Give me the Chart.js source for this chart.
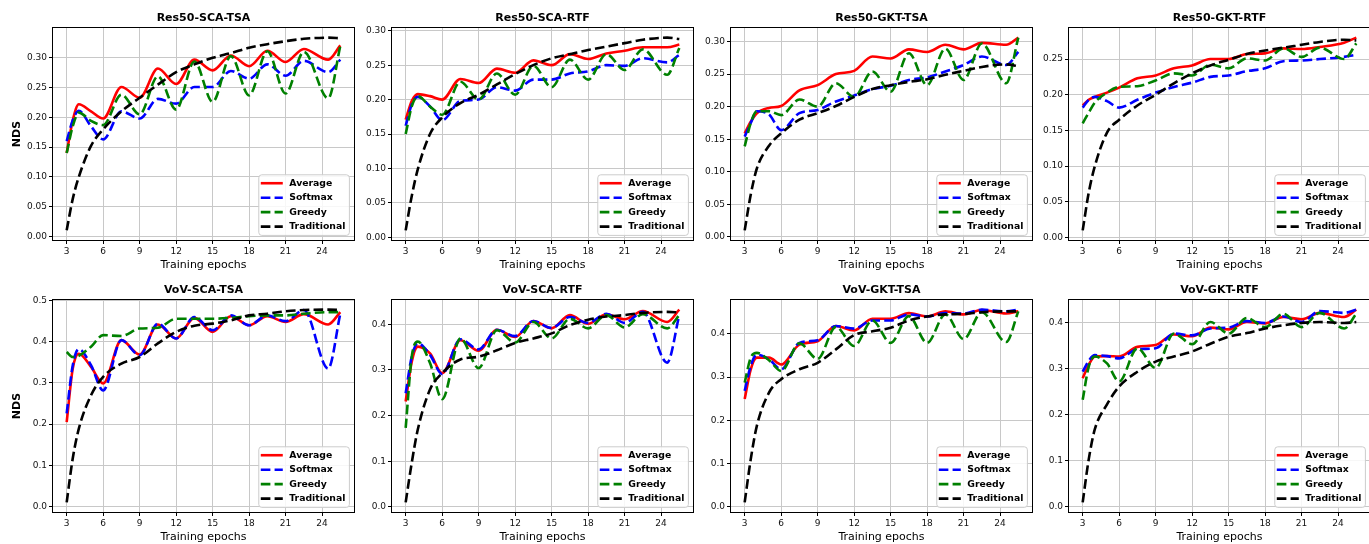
<!DOCTYPE html>
<html>
<head>
<meta charset="utf-8">
<script src="https://cdn.jsdelivr.net/npm/chart.js@4.4.1/dist/chart.umd.min.js"></script>
<style>
  html, body { margin: 0; padding: 0; background: #fff; overflow: hidden; }
  #fig { position: relative; width: 1369px; height: 544px; }
  #fig canvas { position: absolute; }
</style>
</head>
<body>
<div id="fig"></div>
<script>
const epochs = [3, 3.5, 4, 5, 6, 7.5, 9, 10.5, 12, 13.5, 15, 16.5, 18, 19.5, 21, 22.5, 24.5, 25.5];
const xTicks = [3, 6, 9, 12, 15, 18, 21, 24];
const seriesNames = ['Average', 'Softmax', 'Greedy', 'Traditional'];

// Res50-SCA-TSA
const r50ScaTsaAvg    = [0.140, 0.195, 0.222, 0.210, 0.198, 0.251, 0.233, 0.282, 0.256, 0.297, 0.279, 0.304, 0.286, 0.312, 0.293, 0.315, 0.297, 0.321];
const r50ScaTsaSoft   = [0.160, 0.195, 0.211, 0.185, 0.163, 0.210, 0.198, 0.231, 0.223, 0.251, 0.251, 0.278, 0.265, 0.289, 0.270, 0.295, 0.276, 0.297];
const r50ScaTsaGreedy = [0.140, 0.185, 0.208, 0.194, 0.187, 0.238, 0.205, 0.269, 0.213, 0.294, 0.226, 0.303, 0.237, 0.311, 0.240, 0.310, 0.232, 0.320];
const r50ScaTsaTrad   = [0.010, 0.063, 0.100, 0.152, 0.180, 0.210, 0.233, 0.255, 0.276, 0.289, 0.300, 0.308, 0.317, 0.323, 0.328, 0.332, 0.334, 0.333];

// Res50-SCA-RTF
const r50ScaRtfAvg    = [0.171, 0.198, 0.208, 0.205, 0.200, 0.230, 0.224, 0.245, 0.239, 0.257, 0.250, 0.266, 0.259, 0.267, 0.271, 0.276, 0.276, 0.280];
const r50ScaRtfSoft   = [0.162, 0.193, 0.204, 0.190, 0.170, 0.198, 0.200, 0.218, 0.213, 0.229, 0.229, 0.238, 0.241, 0.250, 0.249, 0.260, 0.254, 0.265];
const r50ScaRtfGreedy = [0.150, 0.190, 0.205, 0.190, 0.178, 0.226, 0.200, 0.238, 0.207, 0.249, 0.218, 0.258, 0.229, 0.266, 0.243, 0.273, 0.236, 0.275];
const r50ScaRtfTrad   = [0.010, 0.060, 0.099, 0.150, 0.174, 0.195, 0.207, 0.222, 0.237, 0.250, 0.260, 0.266, 0.272, 0.277, 0.282, 0.287, 0.290, 0.288];

// Res50-GKT-TSA
const r50GktTsaAvg    = [0.159, 0.177, 0.190, 0.198, 0.201, 0.225, 0.233, 0.250, 0.255, 0.277, 0.274, 0.288, 0.284, 0.295, 0.288, 0.298, 0.295, 0.306];
const r50GktTsaSoft   = [0.154, 0.175, 0.193, 0.188, 0.164, 0.190, 0.195, 0.208, 0.217, 0.227, 0.232, 0.241, 0.245, 0.254, 0.264, 0.277, 0.264, 0.284];
const r50GktTsaGreedy = [0.139, 0.175, 0.193, 0.193, 0.187, 0.211, 0.200, 0.236, 0.215, 0.254, 0.223, 0.282, 0.233, 0.289, 0.241, 0.297, 0.236, 0.306];
const r50GktTsaTrad   = [0.010, 0.065, 0.105, 0.140, 0.159, 0.180, 0.190, 0.201, 0.215, 0.227, 0.233, 0.238, 0.242, 0.249, 0.255, 0.261, 0.265, 0.262];

// Res50-GKT-RTF
const r50GktRtfAvg    = [0.185, 0.193, 0.197, 0.203, 0.210, 0.223, 0.227, 0.237, 0.241, 0.250, 0.250, 0.257, 0.258, 0.265, 0.264, 0.267, 0.273, 0.280];
const r50GktRtfSoft   = [0.182, 0.193, 0.197, 0.191, 0.182, 0.193, 0.203, 0.211, 0.217, 0.225, 0.227, 0.233, 0.237, 0.247, 0.248, 0.250, 0.253, 0.256];
const r50GktRtfGreedy = [0.160, 0.175, 0.189, 0.203, 0.211, 0.212, 0.220, 0.230, 0.227, 0.242, 0.237, 0.251, 0.248, 0.265, 0.253, 0.266, 0.250, 0.272];
const r50GktRtfTrad   = [0.010, 0.063, 0.100, 0.147, 0.165, 0.185, 0.200, 0.216, 0.230, 0.241, 0.249, 0.257, 0.262, 0.266, 0.270, 0.274, 0.277, 0.276];

// VoV-SCA-TSA
const vovScaTsaAvg    = [0.205, 0.335, 0.371, 0.339, 0.299, 0.404, 0.369, 0.442, 0.408, 0.458, 0.424, 0.462, 0.440, 0.462, 0.448, 0.467, 0.442, 0.472];
const vovScaTsaSoft   = [0.226, 0.343, 0.382, 0.343, 0.282, 0.404, 0.367, 0.444, 0.408, 0.460, 0.428, 0.464, 0.440, 0.464, 0.450, 0.477, 0.335, 0.468];
const vovScaTsaGreedy = [0.375, 0.363, 0.366, 0.388, 0.416, 0.414, 0.432, 0.434, 0.456, 0.456, 0.456, 0.458, 0.462, 0.464, 0.464, 0.468, 0.472, 0.472];
const vovScaTsaTrad   = [0.010, 0.117, 0.189, 0.270, 0.315, 0.347, 0.363, 0.396, 0.424, 0.439, 0.444, 0.452, 0.464, 0.468, 0.474, 0.477, 0.478, 0.477];

// VoV-SCA-RTF
const vovScaRtfAvg    = [0.231, 0.318, 0.351, 0.336, 0.293, 0.365, 0.342, 0.388, 0.372, 0.407, 0.391, 0.420, 0.401, 0.422, 0.411, 0.429, 0.405, 0.432];
const vovScaRtfSoft   = [0.249, 0.329, 0.358, 0.333, 0.291, 0.367, 0.345, 0.388, 0.374, 0.407, 0.392, 0.416, 0.403, 0.423, 0.403, 0.427, 0.316, 0.420];
const vovScaRtfGreedy = [0.173, 0.329, 0.362, 0.315, 0.236, 0.369, 0.304, 0.387, 0.360, 0.405, 0.369, 0.412, 0.391, 0.420, 0.393, 0.422, 0.391, 0.420];
const vovScaRtfTrad   = [0.010, 0.097, 0.170, 0.257, 0.293, 0.323, 0.329, 0.343, 0.359, 0.369, 0.380, 0.398, 0.410, 0.417, 0.420, 0.425, 0.427, 0.426];

// VoV-GKT-TSA
const vovGktTsaAvg    = [0.249, 0.318, 0.345, 0.345, 0.329, 0.375, 0.383, 0.418, 0.408, 0.435, 0.435, 0.448, 0.440, 0.452, 0.445, 0.455, 0.447, 0.452];
const vovGktTsaSoft   = [0.268, 0.326, 0.352, 0.341, 0.318, 0.379, 0.385, 0.418, 0.412, 0.431, 0.431, 0.445, 0.440, 0.448, 0.447, 0.456, 0.452, 0.456];
const vovGktTsaGreedy = [0.287, 0.345, 0.356, 0.339, 0.314, 0.378, 0.342, 0.416, 0.372, 0.431, 0.379, 0.441, 0.379, 0.445, 0.388, 0.450, 0.381, 0.452];
const vovGktTsaTrad   = [0.010, 0.110, 0.187, 0.264, 0.295, 0.318, 0.333, 0.364, 0.397, 0.406, 0.414, 0.431, 0.440, 0.445, 0.446, 0.450, 0.452, 0.452];

// VoV-GKT-RTF
const vovGktRtfAvg    = [0.280, 0.309, 0.327, 0.328, 0.327, 0.348, 0.352, 0.375, 0.371, 0.390, 0.386, 0.402, 0.399, 0.413, 0.408, 0.422, 0.413, 0.429];
const vovGktRtfSoft   = [0.294, 0.318, 0.330, 0.328, 0.323, 0.343, 0.345, 0.377, 0.373, 0.388, 0.390, 0.404, 0.400, 0.414, 0.402, 0.426, 0.422, 0.429];
const vovGktRtfGreedy = [0.233, 0.305, 0.327, 0.312, 0.273, 0.345, 0.302, 0.377, 0.354, 0.402, 0.377, 0.411, 0.391, 0.420, 0.391, 0.422, 0.388, 0.420];
const vovGktRtfTrad   = [0.010, 0.104, 0.169, 0.223, 0.262, 0.294, 0.316, 0.327, 0.338, 0.355, 0.370, 0.378, 0.388, 0.395, 0.400, 0.402, 0.400, 0.402];

// y tick labels
const res50Ticks  = [0, 0.05, 0.10, 0.15, 0.20, 0.25, 0.30];
const res50TicksB = [0, 0.05, 0.10, 0.15, 0.20, 0.25];
const vovTicks    = [0, 0.1, 0.2, 0.3, 0.4, 0.5];
const vovTicksB   = [0, 0.1, 0.2, 0.3, 0.4];

const panels = [
  { title: 'Res50-SCA-TSA', series: [r50ScaTsaAvg, r50ScaTsaSoft, r50ScaTsaGreedy, r50ScaTsaTrad], yTicks: res50Ticks, digits: 2 },
  { title: 'Res50-SCA-RTF', series: [r50ScaRtfAvg, r50ScaRtfSoft, r50ScaRtfGreedy, r50ScaRtfTrad], yTicks: res50Ticks, digits: 2 },
  { title: 'Res50-GKT-TSA', series: [r50GktTsaAvg, r50GktTsaSoft, r50GktTsaGreedy, r50GktTsaTrad], yTicks: res50Ticks, digits: 2 },
  { title: 'Res50-GKT-RTF', series: [r50GktRtfAvg, r50GktRtfSoft, r50GktRtfGreedy, r50GktRtfTrad], yTicks: res50TicksB, digits: 2 },
  { title: 'VoV-SCA-TSA', series: [vovScaTsaAvg, vovScaTsaSoft, vovScaTsaGreedy, vovScaTsaTrad], yTicks: vovTicks, digits: 1 },
  { title: 'VoV-SCA-RTF', series: [vovScaRtfAvg, vovScaRtfSoft, vovScaRtfGreedy, vovScaRtfTrad], yTicks: vovTicksB, digits: 1 },
  { title: 'VoV-GKT-TSA', series: [vovGktTsaAvg, vovGktTsaSoft, vovGktTsaGreedy, vovGktTsaTrad], yTicks: vovTicksB, digits: 1 },
  { title: 'VoV-GKT-RTF', series: [vovGktRtfAvg, vovGktRtfSoft, vovGktRtfGreedy, vovGktRtfTrad], yTicks: vovTicksB, digits: 1 }
];

const seriesColors = ['#ff0000', '#0000ff', '#008000', '#000000'];
const seriesDash = [[], [9.6, 4.2], [9.6, 4.2], [9.6, 4.2]];
const gridColor = '#c8c8c8';
const inkColor = '#000000';

// subplot placement
const colLeft = [0, 339, 678, 1016];
const rowTop = [0, 272];
const canvasW = 356, canvasH = 274;

Chart.defaults.font.family = '"DejaVu Sans", sans-serif';
Chart.defaults.color = '#111';

// title centred over the axes, frame, and legend box in the lower right corner
const frameAndLegend = {
  id: 'frameAndLegend',
  afterDatasetsDraw(chart) {
    const { ctx, chartArea: a } = chart;
    ctx.save();
    ctx.strokeStyle = inkColor;
    ctx.lineWidth = 1;
    ctx.strokeRect(a.left - 0.5, a.top - 0.5, a.width + 1, a.height + 1);

    ctx.font = 'bold 11px "DejaVu Sans"';
    ctx.fillStyle = '#000';
    ctx.textAlign = 'center';
    ctx.textBaseline = 'middle';
    ctx.fillText(chart.options.plugins.frameAndLegend.title, (a.left + a.right) / 2, a.top - 10);

    const sets = chart.data.datasets;
    ctx.textAlign = 'left';
    ctx.font = 'bold 9.3px "DejaVu Sans"';
    const textW = Math.max(...sets.map(d => ctx.measureText(d.label).width));
    const pad = 2, handle = 22, gap = 6.5, rowH = 14.45;
    const w = pad + handle + gap + textW + 4;
    const h = rowH * sets.length + 2.8;
    const x = a.right - 4.6 - w, y = a.bottom - 4.6 - h;
    ctx.beginPath();
    ctx.roundRect(x, y, w, h, 3);
    ctx.fillStyle = 'rgba(255,255,255,0.85)';
    ctx.fill();
    ctx.strokeStyle = '#cccccc';
    ctx.stroke();
    sets.forEach((d, i) => {
      const cy = y + 1.2 + rowH * (i + 0.5);
      ctx.beginPath();
      ctx.setLineDash(d.borderDash);
      ctx.strokeStyle = d.borderColor;
      ctx.lineWidth = d.borderWidth;
      ctx.moveTo(x + pad, cy);
      ctx.lineTo(x + pad + handle, cy);
      ctx.stroke();
      ctx.setLineDash([]);
      ctx.fillStyle = '#000';
      ctx.fillText(d.label, x + pad + handle + gap, cy);
    });
    ctx.restore();
  }
};

const fig = document.getElementById('fig');
const xPad = (epochs[epochs.length - 1] - epochs[0]) * 0.05;

panels.forEach((p, idx) => {
  const col = idx % 4, row = Math.floor(idx / 4);
  const canvas = document.createElement('canvas');
  canvas.width = canvasW;
  canvas.height = canvasH;
  canvas.style.left = colLeft[col] + 'px';
  canvas.style.top = rowTop[row] + 'px';
  fig.appendChild(canvas);

  const all = p.series.flat();
  const lo = Math.min(...all), hi = Math.max(...all);
  const yPad = (hi - lo) * 0.05;

  new Chart(canvas, {
    type: 'line',
    data: {
      datasets: p.series.map((ys, i) => ({
        label: seriesNames[i],
        data: epochs.map((x, j) => ({ x: x, y: ys[j] })),
        borderColor: seriesColors[i],
        borderWidth: 2.6,
        borderDash: seriesDash[i],
        pointRadius: 0,
        fill: false,
        cubicInterpolationMode: 'monotone',
        order: 3 - i
      }))
    },
    options: {
      responsive: false,
      animation: false,
      events: [],
      layout: { padding: { left: 0, right: 2, top: 28, bottom: 0 } },
      plugins: {
        legend: { display: false },
        tooltip: { enabled: false },
        title: { display: false },
        frameAndLegend: { title: p.title }
      },
      scales: {
        x: {
          type: 'linear',
          bounds: 'data',
          min: epochs[0] - xPad,
          max: epochs[epochs.length - 1] + xPad,
          afterBuildTicks: s => { s.ticks = xTicks.map(v => ({ value: v })); },
          afterFit: s => { s.height = 34; },
          ticks: { font: { size: 9 }, padding: 2, maxRotation: 0, autoSkip: false, callback: v => String(v) },
          grid: { color: gridColor, lineWidth: 1, tickLength: 4, tickColor: inkColor, tickWidth: 1 },
          border: { display: false },
          title: { display: true, text: 'Training epochs', color: '#000', font: { size: 11 }, padding: { top: 0, bottom: 1.9 } }
        },
        y: {
          type: 'linear',
          bounds: 'data',
          min: lo - yPad,
          max: hi + yPad,
          afterBuildTicks: s => { s.ticks = p.yTicks.map(v => ({ value: v })); },
          afterFit: s => { s.width = 53; },
          ticks: { font: { size: 9 }, padding: 2, callback: v => Number(v).toFixed(p.digits) },
          grid: { color: gridColor, lineWidth: 1, tickLength: 4, tickColor: inkColor, tickWidth: 1 },
          border: { display: false },
          title: {
            display: col === 0,
            text: 'NDS',
            color: '#000',
            font: { size: 11, weight: 'bold' },
            padding: { top: 10.4, bottom: 0 }
          }
        }
      }
    },
    plugins: [frameAndLegend]
  });
});
</script>
</body>
</html>
